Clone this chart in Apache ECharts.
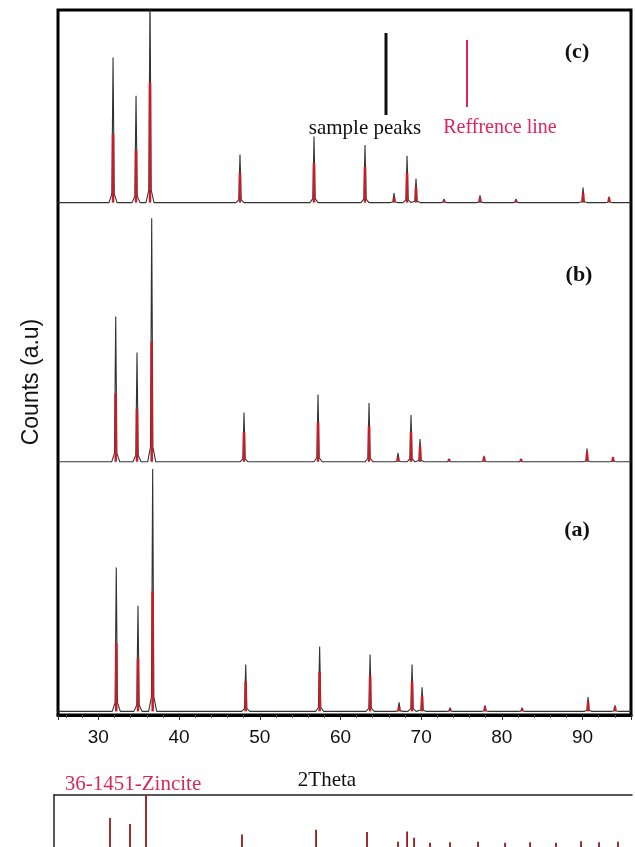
<!DOCTYPE html>
<html>
<head>
<meta charset="utf-8">
<script src="https://cdn.jsdelivr.net/npm/echarts@6/dist/echarts.min.js"></script>
<style>
html,body{margin:0;padding:0;background:#fff;}
#chart{width:635px;height:847px;}
</style>
</head>
<body>
<div id="chart"></div>
<script>
// ---- data ----
const xTicks = [30, 40, 50, 60, 70, 80, 90];
// sample (a)
const peaksA   = [32.22, 34.91, 36.73, 48.26, 57.42, 63.67, 67.26, 68.87, 70.11, 73.58, 77.91, 82.50, 90.68, 94.02];
const heightsA = [120, 88, 202, 39, 54, 47.5, 7.5, 39, 20, 3, 5, 3, 12, 5];
// sample (b)
const peaksB   = [32.15, 34.79, 36.61, 48.05, 57.22, 63.54, 67.13, 68.74, 69.86, 73.45, 77.79, 82.37, 90.55, 93.77];
const heightsB = [121, 91, 203, 41, 56, 49, 7.5, 39, 19, 2.5, 5, 2.5, 11, 4];
// sample (c)
const peaksC   = [31.82, 34.67, 36.40, 47.55, 56.72, 63.04, 66.64, 68.25, 69.36, 72.83, 77.29, 81.75, 90.06, 93.28];
const heightsC = [121, 89, 175, 40, 55, 48, 8, 39, 20, 3, 6, 3, 12.5, 5];
// reference line intensities drawn over each pattern
const refIntensity = [57, 44, 100, 25, 33, 30, 4, 25, 13, 2, 4, 2, 8, 4];
// vertical offsets of the stacked patterns
const offsetA = 3, offsetB = 211, offsetC = 427;
// 36-1451 Zincite card
const zincitePos = [31.88, 34.34, 36.30, 48.09, 57.19, 63.45, 67.26, 68.37, 69.23, 71.19, 73.65, 77.09, 80.41, 83.48, 86.67, 89.74, 91.95, 94.28];
const zinciteInt = [56, 44, 100, 24, 33, 29, 10, 30, 18, 8, 9, 10, 8, 9, 8, 11, 9, 10];

const X_MIN = 25, X_MAX = 96;

function pattern(pos, h, off) {
  const pts = [[X_MIN, off]];
  for (let i = 0; i < pos.length; i++) {
    const p = pos[i];
    pts.push([p - 0.5, off], [p - 0.15, off + h[i] * 0.06], [p, off + h[i]], [p + 0.15, off + h[i] * 0.06], [p + 0.5, off]);
  }
  pts.push([X_MAX, off]);
  return pts;
}
function refLines(pos, inten, off) {
  return pos.map((p, i) => [p, off, off + inten[i]]);
}
function lineItem(color, width) {
  return function (params, api) {
    const a = api.coord([api.value(0), api.value(1)]);
    const b = api.coord([api.value(0), api.value(2)]);
    return { type: 'line', shape: { x1: a[0], y1: a[1], x2: b[0], y2: b[1] },
      style: { stroke: color, lineWidth: width } };
  };
}

const chart = echarts.init(document.getElementById('chart'), null, { renderer: 'canvas' });
const sampleStyle = { color: '#333', width: 1.1 };
const option = {
  animation: false,
  backgroundColor: '#fff',
  grid: [
    { left: 58, right: 4, top: 10, bottom: 132, show: true, borderColor: '#000', borderWidth: 3 },
    { left: 54, right: 3, top: 795, bottom: -3 }
  ],
  xAxis: [
    { gridIndex: 0, type: 'value', min: X_MIN, max: X_MAX, splitNumber: 7, minInterval: 10, maxInterval: 10,
      axisLine: { show: true, onZero: false, lineStyle: { color: '#000', width: 3 } },
      axisTick: { show: true, inside: false, length: 5, lineStyle: { color: '#333', width: 1 } },
      minorTick: { show: true, splitNumber: 5, length: 3, lineStyle: { color: '#555' } },
      splitLine: { show: false },
      axisLabel: { show: true, margin: 13, fontSize: 19, color: '#111', fontFamily: 'Liberation Sans',
        showMinLabel: false, showMaxLabel: false,
        formatter: v => (xTicks.indexOf(v) >= 0 ? String(v) : '') } },
    { gridIndex: 1, type: 'value', min: X_MIN, max: X_MAX, position: 'top',
      axisLine: { show: true, onZero: false, lineStyle: { color: '#222', width: 1.5 } },
      axisTick: { show: false }, axisLabel: { show: false }, splitLine: { show: false } }
  ],
  yAxis: [
    { gridIndex: 0, type: 'value', min: 0, max: 587.5, show: false, splitLine: { show: false } },
    { gridIndex: 1, type: 'value', min: 0, max: 100,
      axisLine: { show: true, onZero: false, lineStyle: { color: '#222', width: 1.5 } },
      axisTick: { show: false }, axisLabel: { show: false }, splitLine: { show: false } }
  ],
  series: [
    { type: 'line', xAxisIndex: 0, yAxisIndex: 0, data: pattern(peaksA, heightsA, offsetA), showSymbol: false, lineStyle: sampleStyle, clip: true },
    { type: 'line', xAxisIndex: 0, yAxisIndex: 0, data: pattern(peaksB, heightsB, offsetB), showSymbol: false, lineStyle: sampleStyle, clip: true },
    { type: 'line', xAxisIndex: 0, yAxisIndex: 0, data: pattern(peaksC, heightsC, offsetC), showSymbol: false, lineStyle: sampleStyle, clip: true },
    { type: 'custom', xAxisIndex: 0, yAxisIndex: 0, data: refLines(peaksA, refIntensity, offsetA), renderItem: lineItem('#cf1a26', 2.5), z: 5 },
    { type: 'custom', xAxisIndex: 0, yAxisIndex: 0, data: refLines(peaksB, refIntensity, offsetB), renderItem: lineItem('#cf1a26', 2.5), z: 5 },
    { type: 'custom', xAxisIndex: 0, yAxisIndex: 0, data: refLines(peaksC, refIntensity, offsetC), renderItem: lineItem('#cf1a26', 2.5), z: 5 },
    { type: 'custom', xAxisIndex: 1, yAxisIndex: 1, data: zincitePos.map((p, i) => [p, 0, zinciteInt[i]]), renderItem: lineItem('#8e1b1b', 1.8), clip: false }
  ],
  graphic: [
    { type: 'line', shape: { x1: 386, y1: 33, x2: 386, y2: 115 }, style: { stroke: '#111', lineWidth: 3 } },
    { type: 'line', shape: { x1: 467, y1: 40, x2: 467, y2: 107 }, style: { stroke: '#e0245a', lineWidth: 2 } },
    { type: 'text', x: 365, y: 128, style: { text: 'sample peaks', fill: '#111', font: '21px "Liberation Serif"', textAlign: 'center', textVerticalAlign: 'middle' } },
    { type: 'text', x: 500, y: 128, style: { text: 'Reffrence line', fill: '#e0245a', font: '20px "Liberation Serif"', textAlign: 'center', textVerticalAlign: 'middle' } },
    { type: 'text', x: 577, y: 52, style: { text: '(c)', fill: '#111', font: 'bold 22px "Liberation Serif"', textAlign: 'center', textVerticalAlign: 'middle' } },
    { type: 'text', x: 579, y: 275, style: { text: '(b)', fill: '#111', font: 'bold 22px "Liberation Serif"', textAlign: 'center', textVerticalAlign: 'middle' } },
    { type: 'text', x: 577, y: 530, style: { text: '(a)', fill: '#111', font: 'bold 22px "Liberation Serif"', textAlign: 'center', textVerticalAlign: 'middle' } },
    { type: 'text', x: 32, y: 382, rotation: Math.PI / 2, style: { text: 'Counts (a.u)', fill: '#111', font: '23px "Liberation Sans"', textAlign: 'center', textVerticalAlign: 'middle' } },
    { type: 'text', x: 327, y: 780, style: { text: '2Theta', fill: '#111', font: '21px "Liberation Serif"', textAlign: 'center', textVerticalAlign: 'middle' } },
    { type: 'text', x: 133, y: 784, style: { text: '36-1451-Zincite', fill: '#d42a5a', font: '21px "Liberation Serif"', textAlign: 'center', textVerticalAlign: 'middle' } }
  ]
};
chart.setOption(option);
</script>
</body>
</html>
